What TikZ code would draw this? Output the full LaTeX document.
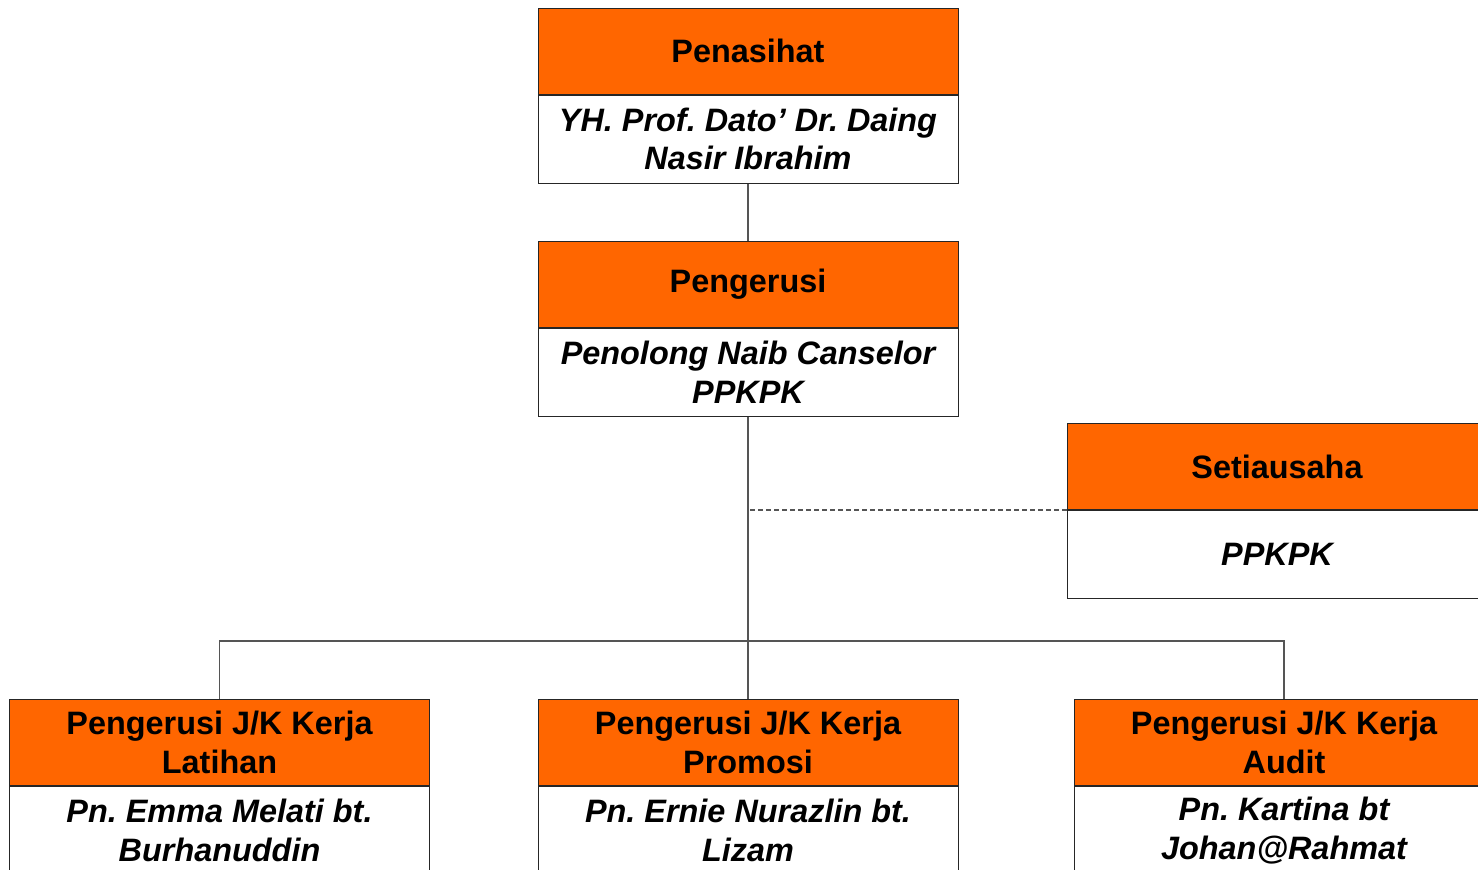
\documentclass[tikz,border=0pt]{standalone}
\usepackage{fontspec}
\setmainfont{Liberation Sans}
\usetikzlibrary{positioning}
\definecolor{orgOrange}{HTML}{FF6600}
\definecolor{linkGray}{HTML}{555555}
\frenchspacing

\begin{document}
\begin{tikzpicture}[x=0.5pt,y=-0.5pt,
    head/.style={draw=black!85,fill=orgOrange,line width=0.5pt,minimum width=210pt,
      minimum height=43pt,inner sep=0pt,align=center,
      font=\fontsize{16.2}{19.3}\selectfont\bfseries},
    body/.style={draw=black!85,fill=white,line width=0.5pt,minimum width=210pt,
      minimum height=44pt,inner sep=0pt,align=center,
      font=\fontsize{16.2}{19.3}\selectfont\bfseries\itshape},
    link/.style={draw=linkGray,line width=0.6pt}]
  \clip (0,0) rectangle (1478,869);
  % top of the chart
  \node[head] (penasihat) at (748,51) {Penasihat};
  \node[body,below=0pt of penasihat] (penasihatB) {YH. Prof. Dato’ Dr. Daing\\Nasir Ibrahim};
  \node[head] (pengerusi) at (748,284) {Pengerusi};
  \node[body,below=0pt of pengerusi] (pengerusiB) {Penolong Naib Canselor\\PPKPK};
  \node[head] (setia) at (1277,466.5) {Setiausaha};
  \node[body,below=0pt of setia] (setiaB) {PPKPK};
  % committees
  \node[head] (latihan) at (219.5,742.5) {Pengerusi J/K Kerja\\Latihan};
  \node[body,below=0pt of latihan] (latihanB) {Pn. Emma Melati bt.\\Burhanuddin};
  \node[head] (promosi) at (748,742.5) {Pengerusi J/K Kerja\\Promosi};
  \node[body,below=0pt of promosi] (promosiB) {Pn. Ernie Nurazlin bt.\\Lizam};
  \node[head] (audit) at (1284,742.5) {Pengerusi J/K Kerja\\Audit};
  \node[body,below=0pt of audit] (auditB) {Pn. Kartina bt\\Johan@Rahmat};
  \coordinate (bar) at (748,641);
  \draw[link] (penasihatB.south) -- (pengerusi.north);
  \draw[link] (pengerusiB.south) -- (promosi.north);
  \draw[link] (latihan.north) |- (bar) -| (audit.north);
  \draw[link,dash pattern=on 2.5pt off 1.5pt] (setia.south west) -- (setia.south west -| pengerusiB.south);
\end{tikzpicture}
\end{document}
